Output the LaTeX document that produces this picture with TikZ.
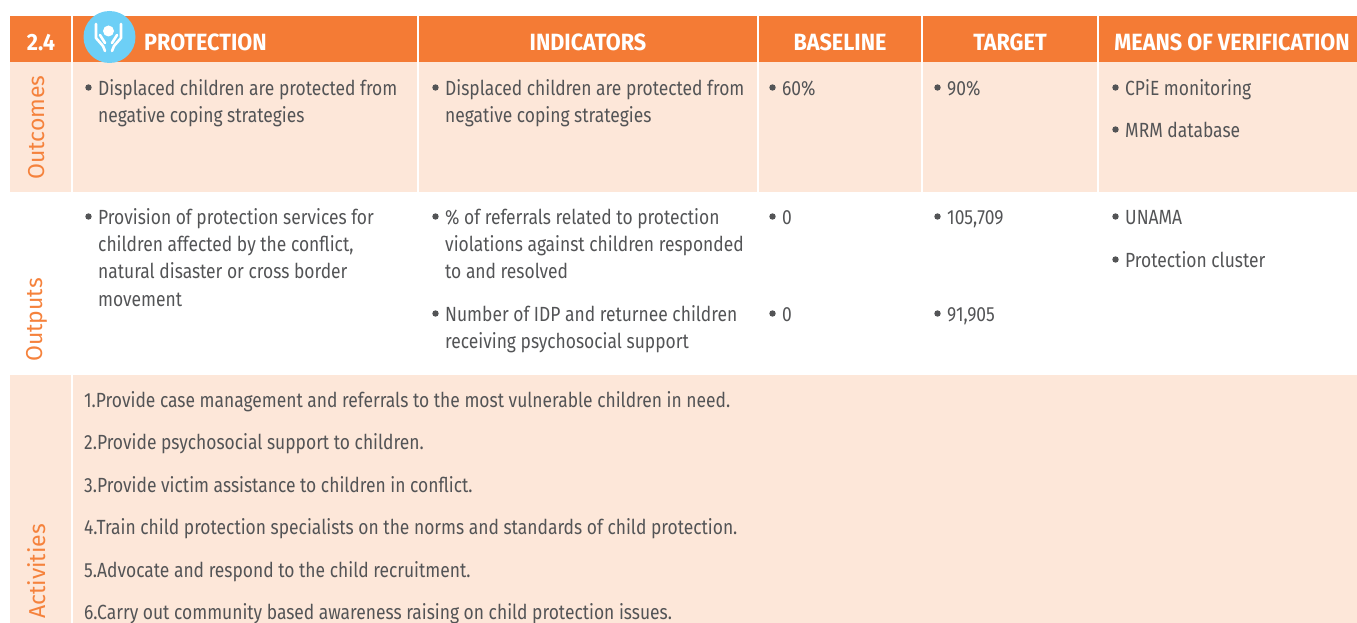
\documentclass[tikz,border=0pt]{standalone}
\usepackage{fontspec}
\setmainfont[FakeStretch=0.85]{Fira Sans}
\newfontfamily\hdrfont[FakeStretch=0.92]{Fira Sans}
\newfontfamily\lblfont{Fira Sans}
\definecolor{hdr}{RGB}{244,123,53}
\definecolor{peach}{RGB}{253,231,217}
\definecolor{txt}{RGB}{83,84,86}
\definecolor{lbl}{RGB}{245,130,60}
\definecolor{iconblue}{RGB}{109,207,246}
\tikzset{
  cell/.style={anchor=north west, inner sep=0pt, align=left, text=txt,
    font=\fontsize{20.5}{27.3}\selectfont},
  dot/.style={circle, fill=txt, inner sep=0pt, minimum size=6.4pt},
  head/.style={inner sep=0pt, text=white, font=\hdrfont\fontsize{23.5}{25}\selectfont\bfseries},
  rowlabel/.style={rotate=90, anchor=west, inner sep=0pt, text=lbl,
    font=\lblfont\fontsize{23}{26}\selectfont},
  divider/.style={white, line width=1.2pt}
}
\newcommand\bcell[4]{%
  \node[cell] (#1) at (#2,#3-16) {\rule{0pt}{16pt}#4};
  \node[dot] (#1d) at (#2-9.5,#3-7.5) {};
}
\begin{document}
\begin{tikzpicture}[x=1pt,y=-1pt]
\useasboundingbox (0,0) rectangle (1357,623);
% backgrounds
\fill[hdr] (10,16) rectangle (1357,62);
\fill[peach] (10,62) rectangle (1357,192);
\fill[peach] (10,375) rectangle (1357,623);
% dividers
\draw[divider] (72,16) -- (72,623);
\foreach \x in {418,758,922,1098} \draw[divider] (\x,16) -- (\x,192);
% icon
\fill[iconblue] (109.5,37) circle (26);
\fill[white] (108.5,31) circle (5.5);
\begin{scope}[white, line width=2.6pt, line join=round, line cap=round]
  \draw (96,24) -- (96,38) -- (103,46) -- (105,51);
  \draw (100,35) -- (105,43);
  \draw (121,24) -- (121,38) -- (114,46) -- (112,51);
  \draw (117,35) -- (112,43);
\end{scope}
% header text
\node[head, anchor=base] (h0) at (41,51) {2.4};
\node[head, anchor=base west] (h1) at (144,51) {PROTECTION};
\node[head, anchor=base] (h2) at (588,51) {INDICATORS};
\node[head, anchor=base] (h3) at (840,51) {BASELINE};
\node[head, anchor=base] (h4) at (1010,51) {TARGET};
\node[head, anchor=base] (h5) at (1232,51) {MEANS OF VERIFICATION};
% row labels
\node[rowlabel] (l1) at (37,180) {Outcomes};
\node[rowlabel] (l2) at (37,362) {Outputs};
\node[rowlabel] (l3) at (37,619) {Activities};
% outcomes row
\bcell{oc1}{98}{95}{Displaced children are protected from\\negative coping strategies}
\bcell{oc2}{445}{95}{Displaced children are protected from\\negative coping strategies}
\bcell{oc3}{782}{95}{60\%}
\bcell{oc4}{947}{95}{90\%}
\bcell{oc5}{1125}{95}{CPiE monitoring}
\bcell{oc6}{1125}{137}{MRM database}
% outputs row
\bcell{op1}{98}{224}{Provision of protection services for\\children affected by the conflict,\\natural disaster or cross border\\movement}
\bcell{op2}{445}{224}{\% of referrals related to protection\\violations against children responded\\to and resolved}
\bcell{op3}{445}{321}{Number of IDP and returnee children\\receiving psychosocial support}
\bcell{op4}{782}{224}{0}
\bcell{op5}{782}{321}{0}
\bcell{op6}{947}{224}{105,709}
\bcell{op7}{947}{321}{91,905}
\bcell{op8}{1125}{224}{UNAMA}
\bcell{op9}{1125}{267}{Protection cluster}
% activities
\node[cell, anchor=base west] (a1) at (84,407) {1.Provide case management and referrals to the most vulnerable children in need.};
\node[cell, anchor=base west] (a2) at (84,449) {2.Provide psychosocial support to children.};
\node[cell, anchor=base west] (a3) at (84,492) {3.Provide victim assistance to children in conflict.};
\node[cell, anchor=base west] (a4) at (84,534) {4.Train child protection specialists on the norms and standards of child protection.};
\node[cell, anchor=base west] (a5) at (84,577) {5.Advocate and respond to the child recruitment.};
\node[cell, anchor=base west] (a6) at (84,619) {6.Carry out community based awareness raising on child protection issues.};
\end{tikzpicture}
\end{document}
